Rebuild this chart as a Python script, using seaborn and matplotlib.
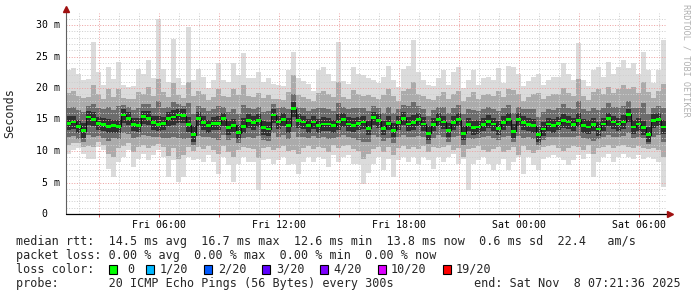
import numpy as np
import pandas as pd
import matplotlib
matplotlib.use("Agg")
import matplotlib.pyplot as plt
import seaborn as sns
from matplotlib.patches import Rectangle

# ---------------- data (ms), one value per 15-minute step ----------------
median = [14.4,14.6,13.9,13.2,15.4,15.0,14.4,14.2,13.9,14.0,
          13.9,15.7,15.2,14.2,14.1,15.5,15.2,14.5,14.2,14.4,
          15.1,15.4,15.7,15.6,14.2,12.6,15.2,14.5,14.0,14.4,
          14.4,15.1,13.7,14.1,12.9,13.9,14.8,14.5,14.9,13.7,
          13.5,15.7,14.6,15.0,14.0,16.7,14.8,14.6,14.0,14.6,
          14.0,14.3,14.3,14.0,14.6,15.0,14.3,14.1,14.4,14.6,
          13.6,15.3,14.8,13.6,14.4,13.3,14.5,15.2,14.3,14.5,
          15.0,14.3,12.8,14.2,15.0,14.6,13.3,14.5,15.0,12.8,
          14.2,13.7,13.8,14.2,14.7,14.3,13.6,14.5,15.0,13.1,
          15.0,14.5,14.2,14.0,12.6,13.5,14.3,14.0,14.4,14.8,
          14.6,14.2,14.9,14.0,13.8,14.2,13.5,14.3,15.1,14.6,
          14.3,14.6,15.8,13.8,14.3,13.7,12.6,14.8,15.0,13.8]

ping_max = [22.8,23.1,22.3,21.2,21.5,27.3,22.5,20.4,23.4,21.5,
            24.2,20.5,20.2,20.3,23.0,22.2,24.4,21.6,31.0,23.0,
            21.0,27.8,21.6,20.5,29.7,21.2,23.0,21.8,20.0,21.2,
            24.0,21.2,21.0,23.9,22.0,25.5,21.6,21.6,22.6,20.9,
            21.6,20.6,20.5,20.3,22.8,25.7,21.6,21.1,20.6,19.6,
            22.8,23.4,22.3,21.1,27.3,21.1,20.6,23.4,22.3,22.0,
            21.6,21.2,20.8,21.8,23.5,21.3,20.2,23.0,23.5,27.6,
            22.6,21.2,20.5,20.3,21.6,22.8,20.5,22.6,23.4,20.0,
            21.2,22.8,20.5,21.6,21.8,21.2,23.2,20.8,23.5,23.4,
            22.3,20.3,21.1,21.8,22.3,20.5,21.2,21.8,21.8,23.9,
            22.3,21.2,27.1,21.2,20.3,22.8,23.4,21.8,24.2,22.3,
            23.4,24.5,23.1,23.9,22.3,25.7,22.8,20.8,22.8,27.6]

ping_p85 = [19.2,19.6,18.8,18.4,18.6,20.4,19.0,18.2,19.8,18.6,
            19.9,18.4,18.3,18.2,19.4,19.0,20.1,18.8,21.5,19.3,
            18.6,20.8,18.9,18.4,21.0,18.7,19.5,19.0,18.1,18.6,
            19.8,18.7,18.5,19.9,18.9,20.5,18.8,18.6,19.2,18.4,
            18.9,18.3,18.2,18.1,19.3,22.0,18.9,18.6,18.3,17.9,
            19.2,19.6,19.0,18.5,20.9,18.6,18.2,19.7,19.1,18.8,
            18.9,18.6,18.3,18.9,19.8,18.7,18.0,19.5,19.8,21.0,
            19.1,18.7,18.2,18.1,18.8,19.4,18.3,19.1,19.6,18.0,
            18.6,19.4,18.3,18.9,19.0,18.7,19.6,18.5,19.8,19.7,
            19.0,18.0,18.6,19.0,19.2,18.3,18.7,19.0,19.0,20.0,
            19.2,18.7,21.5,18.8,18.1,19.4,19.8,19.0,20.2,19.2,
            19.9,20.4,19.8,20.1,19.2,21.0,19.3,18.4,19.5,20.6]

ping_p70 = [16.8,17.0,16.5,16.2,17.2,17.4,16.9,16.6,17.0,16.5,
            17.2,17.3,17.0,16.5,16.8,17.4,17.5,16.8,18.0,16.9,
            17.0,17.8,17.5,17.2,17.6,15.9,17.2,16.9,16.4,16.7,
            17.1,17.0,16.2,16.7,15.8,17.3,16.9,16.7,17.0,16.2,
            16.3,17.5,16.8,17.0,16.6,19.0,17.0,16.8,16.4,16.6,
            16.8,16.9,16.7,16.4,17.6,17.0,16.6,16.8,16.9,16.8,
            16.4,17.2,16.9,16.1,17.0,16.0,16.6,17.3,17.2,17.8,
            17.1,16.6,15.6,16.5,17.0,17.0,16.0,16.9,17.3,15.8,
            16.6,16.5,16.3,16.7,17.0,16.7,16.4,16.8,17.3,16.0,
            17.0,16.6,16.7,16.6,15.4,16.2,16.6,16.5,16.8,17.4,
            16.9,16.6,18.0,16.6,16.3,16.9,16.5,16.8,17.6,17.0,
            17.0,17.2,18.0,16.8,16.9,17.6,15.8,16.9,17.2,16.8]

ping_p58 = [15.5,15.6,15.0,14.4,16.3,16.2,15.4,15.3,15.1,15.0,
            15.0,16.6,16.2,15.3,15.2,16.4,16.3,15.6,15.5,15.4,
            16.2,16.5,16.7,16.6,15.4,14.0,16.2,15.6,15.0,15.4,
            15.6,16.1,14.8,15.1,14.1,15.2,15.8,15.5,15.9,14.8,
            14.6,16.6,15.6,16.0,15.2,17.8,15.9,15.6,15.1,15.6,
            15.1,15.4,15.3,15.0,15.8,16.0,15.4,15.2,15.4,15.6,
            14.8,16.2,15.8,14.7,15.5,14.5,15.5,16.2,15.4,15.7,
            16.0,15.4,14.0,15.2,16.0,15.6,14.5,15.5,16.1,14.0,
            15.3,14.8,14.9,15.2,15.7,15.3,14.7,15.6,16.0,14.3,
            16.0,15.5,15.2,15.1,13.8,14.6,15.3,15.1,15.4,15.8,
            15.6,15.3,16.0,15.1,14.9,15.2,14.6,15.3,16.1,15.6,
            15.3,15.7,16.7,14.9,15.3,14.8,13.8,15.8,16.0,14.9]

ping_p42 = [13.3,13.5,12.8,12.1,14.2,13.9,13.3,13.1,12.8,12.9,
            12.8,14.5,14.1,13.1,13.0,14.3,14.1,13.4,13.1,13.3,
            14.0,14.2,14.5,14.4,13.0,11.5,14.0,13.4,12.9,13.3,
            13.3,13.9,12.6,13.0,11.9,12.8,13.6,13.4,13.8,12.6,
            12.4,14.5,13.5,13.9,12.9,15.4,13.7,13.5,12.9,13.5,
            12.9,13.2,13.2,12.9,13.4,13.8,13.2,13.0,13.3,13.5,
            12.5,14.2,13.7,12.5,13.3,12.2,13.4,14.1,13.2,13.4,
            13.9,13.2,11.7,13.1,13.9,13.5,12.2,13.4,13.9,11.7,
            13.1,12.6,12.7,13.1,13.6,13.2,12.5,13.4,13.9,12.0,
            13.9,13.4,13.1,12.9,11.5,12.4,13.2,12.9,13.3,13.7,
            13.5,13.1,13.8,12.9,12.7,13.1,12.4,13.2,14.0,13.5,
            13.2,13.5,14.6,12.7,13.2,12.6,11.5,13.7,13.9,12.7]

ping_p30 = [12.2,12.4,11.9,11.5,12.6,12.3,12.4,12.1,11.6,12.0,
            11.9,12.8,12.7,12.0,12.2,12.5,12.4,12.3,12.2,12.1,
            12.0,12.3,12.1,11.9,12.0,11.0,12.4,12.2,12.2,12.0,
            11.8,12.5,11.8,12.1,11.2,12.0,12.3,12.0,12.4,11.8,
            11.6,12.9,12.2,12.5,11.9,13.0,12.3,12.2,12.1,12.4,
            12.0,12.3,11.9,12.1,12.2,12.5,12.3,12.0,11.7,11.5,
            11.4,12.6,12.3,11.6,12.1,11.3,12.2,12.6,12.2,12.3,
            12.4,12.2,11.1,12.1,12.5,12.2,11.5,12.3,12.4,10.9,
            12.0,11.9,12.0,12.2,12.4,12.1,11.7,12.3,12.4,11.5,
            12.4,12.1,12.2,11.9,11.0,11.8,12.3,12.2,12.2,12.3,
            12.2,12.2,12.4,12.0,11.9,11.6,11.9,12.3,12.6,12.3,
            12.2,12.4,12.9,12.0,12.2,12.0,11.1,12.3,12.5,11.4]

ping_p15 = [10.9,11.2,11.3,10.7,10.8,10.6,11.5,11.0,9.6,9.0,
            10.4,10.8,11.2,9.9,10.6,11.0,10.4,10.8,11.1,10.7,
            9.2,10.5,8.8,9.4,10.6,10.0,10.6,10.3,10.8,10.2,
            9.5,10.8,9.9,9.0,10.1,10.7,10.4,10.3,8.9,10.4,
            10.6,10.2,10.5,10.8,10.0,10.2,9.6,10.4,10.8,10.3,
            10.7,10.5,9.9,10.9,10.4,10.8,10.9,10.3,10.0,8.8,
            9.6,10.3,10.7,9.8,10.6,9.4,10.5,10.8,10.3,10.7,
            10.3,10.8,9.8,10.6,10.4,10.7,10.9,10.2,10.5,9.0,
            10.3,10.4,10.8,10.2,9.8,10.3,10.6,9.8,10.2,10.6,
            9.4,10.8,10.1,9.7,10.1,10.6,10.8,10.9,10.5,10.0,
            10.5,10.8,10.6,10.2,10.9,9.5,10.4,10.7,10.9,10.4,
            10.8,10.9,10.6,10.5,10.8,10.4,10.3,10.4,10.2,9.0]

ping_min = [9.6,10.1,10.4,9.6,8.8,8.8,10.7,10.1,7.2,5.9,
            8.3,9.1,10.1,7.5,8.8,9.6,8.5,9.3,10.1,9.1,
            5.9,8.5,5.1,5.9,9.1,8.5,8.8,8.3,9.3,8.3,
            6.4,9.1,7.8,5.1,8.0,9.1,8.3,8.3,3.8,8.5,
            8.8,8.0,8.5,9.1,7.8,8.0,6.4,8.3,9.1,8.3,
            9.1,8.8,7.5,9.3,8.3,9.1,9.3,8.0,8.0,4.8,
            6.5,8.0,9.1,7.0,8.8,5.9,8.5,9.1,8.3,9.1,
            8.0,9.1,8.5,7.2,9.1,8.3,9.1,9.6,8.0,8.8,
            3.8,8.0,8.5,9.1,8.0,7.0,8.0,8.8,7.0,8.3,
            9.1,6.4,9.1,7.8,7.0,8.8,9.1,9.3,9.1,8.5,
            7.8,8.5,9.3,8.8,9.6,5.9,8.3,9.1,9.6,8.3,
            9.1,9.6,9.1,8.8,9.3,8.8,9.1,8.8,8.3,4.3]

x_tick_hours = [6, 12, 18, 24, 30]          # hours after Fri 00:00
x_tick_labels = ["Fri 06:00", "Fri 12:00", "Fri 18:00", "Sat 00:00", "Sat 06:00"]
y_tick_values = [0, 5, 10, 15, 20, 25, 30]
y_tick_labels = ["0", "5 m", "10 m", "15 m", "20 m", "25 m", "30 m"]
loss_labels = ["0", "1/20", "2/20", "3/20", "4/20", "10/20", "19/20"]
loss_colors = ["#00ff00", "#00b8ff", "#0059ff", "#5e00ff", "#7e00ff", "#dd00ff", "#ff0000"]

end_hour = 24 + 7 + 21/60 + 36/3600       # Sat 07:21:36
span_hours = 30
step_hours = 0.25

# ---------------- figure ----------------
sns.set_style("white")
plt.rcParams["font.family"] = ["DejaVu Sans Mono", "DejaVu Sans"]

W, H = 697, 297
fig = plt.figure(figsize=(W / 100, H / 100), dpi=100)
fig.patch.set_facecolor("white")
PX0, PX1, PY0, PY1 = 66, 666, 214, 13
ax = fig.add_axes([PX0 / W, 1 - PY0 / H, (PX1 - PX0) / W, (PY0 - PY1) / H])
ax.set_facecolor("white")

t_start = end_hour - span_hours
n = len(median)
t = t_start + step_hours * np.arange(n)
df = pd.DataFrame({"t": t, "median": median, "max": ping_max, "p85": ping_p85,
                   "p70": ping_p70, "p58": ping_p58, "p42": ping_p42,
                   "p30": ping_p30, "p15": ping_p15, "min": ping_min})
last = df.iloc[[-1]].copy()
last["t"] = end_hour
dfe = pd.concat([df, last], ignore_index=True)

layers = [("min", "max", "#dbdbdb"), ("p15", "p85", "#ababab"),
          ("p30", "p70", "#6c6c6c"), ("p42", "p58", "#303030")]
for lo, hi, c in layers:
    ax.fill_between(dfe["t"], dfe[lo], dfe[hi], step="post", color=c, lw=0, zorder=1)

# grid (drawn over the smoke like rrdtool)
y_top = (PY0 - PY1) / 6.3
minor_y = [v for v in range(1, 32) if v % 5]
major_y = [v for v in range(5, 32, 5)]
hours = np.arange(np.ceil(t_start), end_hour + 0.01, 1.0)
minor_x = [h for h in hours if h % 3]
major_x = [h for h in hours if h % 3 == 0]
dot = (0, (1, 1.6))
ax.hlines(minor_y, t_start, end_hour, colors="#cfcfcf", linestyles=dot, lw=0.72, zorder=2)
ax.vlines(minor_x, 0, y_top, colors="#cfcfcf", linestyles=dot, lw=0.72, zorder=2)
ax.hlines(major_y, t_start, end_hour, colors="#eda3a3", linestyles=dot, lw=0.72, zorder=2.1)
ax.vlines(major_x, 0, y_top, colors="#eda3a3", linestyles=dot, lw=0.72, zorder=2.1)
ax.vlines(major_x, -0.45, 0, colors="#e06060", lw=0.72, zorder=2.1, clip_on=False)

# median: dark step connectors + green blocks
sns.lineplot(data=dfe, x="t", y="median", drawstyle="steps-post", color="#111111",
             lw=0.8, ax=ax, zorder=3, legend=False)
half = 0.22
ax.fill_between(dfe["t"], dfe["median"] - half, dfe["median"] + half, step="post",
                color=loss_colors[0], lw=0, zorder=4)

ax.set_xlim(t_start, end_hour)
ax.set_ylim(0, y_top)
for s in ax.spines.values():
    s.set_visible(False)
ax.set_xlabel("")
ax.set_ylabel("")
ax.set_xticks(x_tick_hours, x_tick_labels)
ax.tick_params(axis="x", length=0, pad=4, labelsize=7.1, colors="black")
ax.set_yticks([])

# axis lines and arrows
ax.plot([t_start, t_start], [0, y_top + 0.5], color="#606060", lw=0.8, clip_on=False, zorder=5)
ax.plot([t_start, end_hour + 0.15], [0, 0], color="black", lw=0.9, clip_on=False, zorder=5)
ax.plot([t_start], [y_top + 0.6], marker="^", ms=4, color="#a01010", clip_on=False, zorder=6)
ax.plot([end_hour + 0.2], [0], marker=">", ms=4, color="#a01010", clip_on=False, zorder=6)

# y tick labels
ytr = ax.get_yaxis_transform()
for v, lab in zip(y_tick_values, y_tick_labels):
    xoff = -19 if lab == "0" else -6
    ax.text(xoff / (PX1 - PX0), v, lab, transform=ytr, ha="right", va="center",
            fontsize=7.1, color="black")

fig.text(10 / W, 1 - 113 / H, "Seconds", rotation=90, ha="center", va="center", fontsize=8.5)

# watermark
fig.text(686 / W, 1 - 4 / H, "RRDTOOL / TOBI OETIKER", rotation=270, ha="center",
         va="top", fontsize=6.1, color="#b0b0b0")

# legend block
fs = 8.5
fig.text(16 / W, 1 - 241.5 / H,
         "median rtt:  14.5 ms avg  16.7 ms max  12.6 ms min  13.8 ms now  0.6 ms sd  22.4   am/s",
         ha="left", va="center", fontsize=fs)
fig.text(16 / W, 1 - 255.5 / H,
         "packet loss: 0.00 % avg  0.00 % max  0.00 % min  0.00 % now",
         ha="left", va="center", fontsize=fs)
fig.text(16 / W, 1 - 269.5 / H, "loss color:", ha="left", va="center", fontsize=fs)
sq_x = [109, 146, 204, 262, 320, 378, 443]
lab_x = [127, 160, 218, 276, 333, 391, 456]
for sx, lx, lab, col in zip(sq_x, lab_x, loss_labels, loss_colors):
    fig.patches.append(Rectangle((sx / W, 1 - 274 / H), 8 / W, 9 / H, transform=fig.transFigure,
                                 facecolor=col, edgecolor="black", lw=0.8))
    fig.text(lx / W, 1 - 269.5 / H, lab, ha="left", va="center", fontsize=fs)
fig.text(16 / W, 1 - 283.5 / H, "probe:       20 ICMP Echo Pings (56 Bytes) every 300s",
         ha="left", va="center", fontsize=fs)
fig.text(681 / W, 1 - 283.5 / H, "end: Sat Nov  8 07:21:36 2025", ha="right", va="center",
         fontsize=fs)

fig.savefig("out.png", dpi=100, facecolor="white")
